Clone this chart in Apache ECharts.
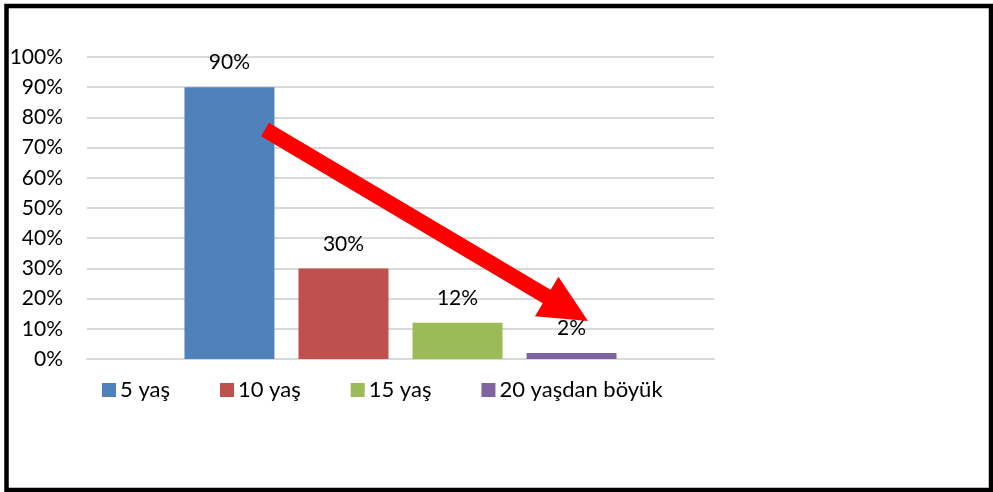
<!DOCTYPE html>
<html>
<head>
<meta charset="utf-8">
<script src="https://cdn.jsdelivr.net/npm/echarts@6/dist/echarts.min.js"></script>
<style>html,body{margin:0;padding:0;background:#fff}#c{width:993px;height:492px}</style>
</head>
<body>
<div id="c"></div>
<script>
var categories = [''];
var seriesNames = ['5 yaş', '10 yaş', '15 yaş', '20 yaşdan böyük'];
var seriesValues = [90, 30, 12, 2];
var seriesColors = ['#4f81bd', '#c0504d', '#9bbb59', '#8064a2'];
var yTicks = {min: 0, max: 100, interval: 10};

var FONT = 'Lato';
var chart = echarts.init(document.getElementById('c'));

// arrow annotation geometry
function arrowPoints(sx, sy, tx, ty, shaftW, headW, headL) {
  var dx = tx - sx, dy = ty - sy, len = Math.sqrt(dx*dx + dy*dy);
  var ux = dx/len, uy = dy/len, nx = -uy, ny = ux;
  var bx = tx - ux*headL, by = ty - uy*headL;
  var hs = shaftW/2, hh = headW/2;
  return [
    [sx + nx*hs, sy + ny*hs],
    [bx + nx*hs, by + ny*hs],
    [bx + nx*hh, by + ny*hh],
    [tx, ty],
    [bx - nx*hh, by - ny*hh],
    [bx - nx*hs, by - ny*hs],
    [sx - nx*hs, sy - ny*hs]
  ];
}

var series = seriesNames.map(function (n, i) {
  return {
    name: n,
    type: 'bar',
    data: [seriesValues[i]],
    barWidth: 90,
    barGap: '26.7%',
    itemStyle: {color: seriesColors[i]},
    label: {
      show: true, position: 'top', distance: 14,
      formatter: '{c}%', color: '#000', fontFamily: FONT, fontSize: 21
    }
  };
});

chart.setOption({
  animation: false,
  backgroundColor: '#fff',
  grid: {left: 87, right: 279, top: 57, bottom: 133},
  legend: {
    data: seriesNames,
    left: 102, top: 379, padding: 0,
    itemWidth: 14, itemHeight: 14, itemGap: 50,
    icon: 'rect',
    textStyle: {fontFamily: FONT, fontSize: 22, color: '#000', padding: [0, 0, 0, -1]}
  },
  xAxis: {
    type: 'category', data: categories,
    axisLine: {lineStyle: {color: '#d9d9d9', width: 2}},
    axisTick: {show: false},
    axisLabel: {show: false}
  },
  yAxis: {
    type: 'value', min: yTicks.min, max: yTicks.max, interval: yTicks.interval,
    axisLine: {show: false}, axisTick: {show: false},
    axisLabel: {formatter: '{value}%', color: '#000', fontFamily: FONT, fontSize: 21, margin: 24},
    splitLine: {lineStyle: {color: '#d9d9d9', width: 2}}
  },
  series: series,
  graphic: [
    {type: 'rect', shape: {x: 6.5, y: 6, width: 984.5, height: 484},
     style: {fill: 'none', stroke: '#000', lineWidth: 4.5}, z: 100},
    {type: 'polygon', shape: {points: arrowPoints(265, 129.5, 588, 321, 15.5, 46, 48)},
     style: {fill: '#ff0000'}, z: 90}
  ]
});
</script>
</body>
</html>
